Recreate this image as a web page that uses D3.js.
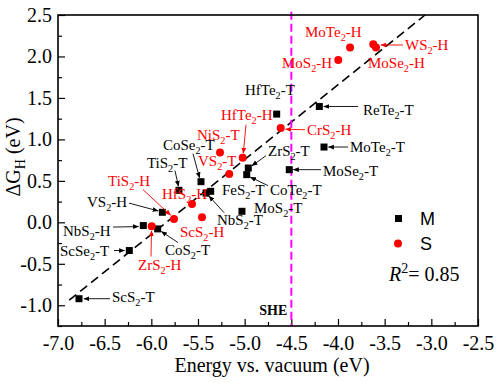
<!DOCTYPE html>
<html><head><meta charset="utf-8">
<script src="https://cdn.jsdelivr.net/npm/d3@7"></script>
<style>body{margin:0;background:#fff}</style>
</head><body><svg id="c" width="500" height="383"></svg>
<script>
// ---- data ----
const mNames = ["ScS2-T","ScSe2-T","NbS2-H","CoS2-T","VS2-H","TiS2-T","CoSe2-T","NbS2-T","FeS2-T","MoS2-T","CoTe2-T","ZrS2-T","MoSe2-T","HfTe2-T","MoTe2-T","ReTe2-T"];
const mX = [-6.775,-6.236,-6.086,-5.932,-5.882,-5.704,-5.468,-5.414,-5.364,-5.029,-4.978,-4.961,-4.522,-4.657,-4.150,-4.200];
const mY = [-0.921,-0.340,-0.039,-0.079,0.121,0.386,0.490,0.352,0.374,0.133,0.575,0.655,0.635,1.305,0.908,1.397];
const sNames = ["ZrS2-H","TiS2-H","HfS2-H","ScS2-H","VS2-T","NiS2-T","HfTe2-H","CrS2-H","MoS2-H","MoTe2-H","WS2-H","MoSe2-H"];
const sX = [-5.996,-5.757,-5.564,-5.457,-5.165,-5.264,-5.021,-4.614,-3.997,-3.871,-3.622,-3.593];
const sY = [-0.047,0.041,0.220,0.061,0.584,0.843,0.779,1.137,1.958,2.107,2.147,2.107];
const fitSlope = 0.902, fitIntercept = 5.267, fitXStart = -6.88;
const sheX = -4.5;
const r2Value = "0.85";
const xMajor = [-7.0,-6.5,-6.0,-5.5,-5.0,-4.5,-4.0,-3.5,-3.0,-2.5];
const yMajor = [-1.0,-0.5,0.0,0.5,1.0,1.5,2.0,2.5];

// ---- layout (pixel offsets of labels relative to their point: text dx,dy ; arrow start ; arrow end) ----
const mLayout = [
 [33,-2, 31,0, 5,0],
 [-69.3,0, -15.3,0, -4.8,0],
 [-80.3,5, -30.3,1.5, -4.8,1],
 [7.3,21.4, 20.3,13.7, 3.8,2.7],
 [-75.3,-10, -33.3,-9.2, -4.3,-1.4],
 [-32,-27.4, -4,-19.7, -0.5,-4.2],
 [-38,-37, -8,-28, -1.5,-4],
 [11,26.5, 18,19.5, 3,3],
 [11.3,-1.7],
 [12,-3.4],
 [23.3,15, 21.3,11, 3.8,2.5],
 [19.7,-17.3, 17.7,-12.3, 3.7,-2.3],
 [33.7,1.7, 31.7,0, 4.2,0],
 [-31.7,-24.3],
 [26,0, 24,0, 4.5,0],
 [43.7,3.3, 38.7,0, 4.5,0]
];
const sLayout = [
 [-13.7,38.3, -0.7,30.3, -0.2,4.8],
 [-66,-37.6, -31,-29.3, -3.5,-3.8],
 [-30,-10.5],
 [-22,14.6],
 [-31.3,-13.2],
 [-23,-17.7],
 [-21.7,-43, 3.3,-33, 0.6,-4.5],
 [26.3,1.7, 24.3,1.7, 4.8,1.2],
 [-56.3,3.3],
 [-45,-15.4],
 [31.7,0.7, 29.7,0.7, 7.7,0.7],
 [-8,15.6]
];

const svg = d3.select("#c");
const L=58,R=478,T=15,B=326;
const x = d3.scaleLinear().domain([-7,-2.5]).range([L,R]);
const y = d3.scaleLinear().domain([-1.25,2.5]).range([B,T]);
const serif = "'Liberation Serif','Times New Roman',serif";
const RED = "#ff0000";

const defs = svg.append("defs");
[["k","#000"],["r",RED]].forEach(([id,c])=>{
  defs.append("marker").attr("id","ah"+id).attr("viewBox","0 0 10 10").attr("refX",9).attr("refY",5)
   .attr("markerWidth",6).attr("markerHeight",6).attr("markerUnits","userSpaceOnUse").attr("orient","auto")
   .append("path").attr("d","M0,1 L10,5 L0,9 Z").attr("fill",c);
});

// minor ticks
const xMinor = d3.range(-7,-2.49,0.25).filter(v=>!xMajor.some(m=>Math.abs(m-v)<1e-6));
const yMinor = d3.range(-1.25,2.51,0.25).filter(v=>!yMajor.some(m=>Math.abs(m-v)<1e-6));
svg.append("g").attr("transform",`translate(0,${B})`).call(d3.axisBottom(x).tickValues(xMinor).tickSize(-4).tickFormat(""))
  .call(g=>g.select(".domain").remove());
svg.append("g").attr("transform",`translate(${L},0)`).call(d3.axisLeft(y).tickValues(yMinor).tickSize(-4).tickFormat(""))
  .call(g=>g.select(".domain").remove());
const fmt = v => d3.format(".1f")(v).replace("\u2212","-");
svg.append("g").attr("transform",`translate(0,${B})`).call(d3.axisBottom(x).tickValues(xMajor).tickSize(-7).tickPadding(10).tickFormat(fmt))
  .call(g=>g.select(".domain").remove())
  .call(g=>g.selectAll("text").style("font-family",serif).style("font-size","20px").attr("fill","#000"));
svg.append("g").attr("transform",`translate(${L},0)`).call(d3.axisLeft(y).tickValues(yMajor).tickSize(-7).tickPadding(6).tickFormat(fmt))
  .call(g=>g.select(".domain").remove())
  .call(g=>g.selectAll("text").style("font-family",serif).style("font-size","20px").attr("fill","#000"));
svg.selectAll(".tick line").attr("stroke","#000").attr("stroke-width",1.2);

// fit line
const fitXEnd = (2.5 - fitIntercept)/fitSlope;
svg.append("line").attr("x1",x(fitXStart)).attr("y1",y(fitSlope*fitXStart+fitIntercept))
  .attr("x2",x(fitXEnd)).attr("y2",y(fitSlope*fitXEnd+fitIntercept))
  .attr("stroke","#000").attr("stroke-width",1.6).attr("stroke-dasharray","9,5");
// SHE line
svg.append("line").attr("x1",x(sheX)).attr("x2",x(sheX)).attr("y1",y(2.54)).attr("y2",B)
  .attr("stroke","#ff00ff").attr("stroke-width",2).attr("stroke-dasharray","8,4");

// frame
svg.append("rect").attr("x",L).attr("y",T).attr("width",R-L).attr("height",B-T)
  .attr("fill","none").attr("stroke","#000").attr("stroke-width",1.6);

function chem(sel, name, fs){
  const parts = name.split(/(\d)/).filter(p=>p.length);
  let sub=false;
  parts.forEach(p=>{
    if(/^\d$/.test(p)){
      sel.append("tspan").attr("dy",fs*0.27).style("font-size",(fs*0.68)+"px").text(p); sub=true;
    } else {
      const t = sel.append("tspan").text(p);
      if(sub){ t.attr("dy",-fs*0.27); sub=false; }
    }
  });
}

function drawLabels(names,xs,ys,layout,color,mk){
  const g = svg.append("g");
  names.forEach((n,i)=>{
    const px=x(xs[i]), py=y(ys[i]), l=layout[i];
    if(l.length>2){
      g.append("line").attr("x1",px+l[2]).attr("y1",py+l[3]).attr("x2",px+l[4]).attr("y2",py+l[5])
       .attr("stroke",color).attr("stroke-width",0.9).attr("marker-end",`url(#ah${mk})`);
    }
    const t = g.append("text").attr("x",px+l[0]).attr("y",py+l[1]+5).attr("fill",color)
      .style("font-family",serif).style("font-size","15px");
    chem(t,n,15);
  });
}

// markers
svg.append("g").selectAll("rect").data(mNames).join("rect")
  .attr("x",(d,i)=>x(mX[i])-3.5).attr("y",(d,i)=>y(mY[i])-3.5).attr("width",7).attr("height",7).attr("fill","#000");
svg.append("g").selectAll("circle").data(sNames).join("circle")
  .attr("cx",(d,i)=>x(sX[i])).attr("cy",(d,i)=>y(sY[i])).attr("r",4).attr("fill",RED);

drawLabels(mNames,mX,mY,mLayout,"#000","k");
drawLabels(sNames,sX,sY,sLayout,RED,"r");

// SHE text
svg.append("text").attr("x",x(sheX)-4).attr("y",315).attr("text-anchor","end")
  .style("font-family",serif).style("font-size","14px").style("font-weight","bold").text("SHE");

// legend
svg.append("rect").attr("x",395).attr("y",215).attr("width",7).attr("height",7).attr("fill","#000");
svg.append("circle").attr("cx",398).attr("cy",243.5).attr("r",4).attr("fill",RED);
svg.append("text").attr("x",420).attr("y",225).style("font-family","'Liberation Sans',Arial,sans-serif").style("font-size","18px").text("M");
svg.append("text").attr("x",420).attr("y",250).style("font-family","'Liberation Sans',Arial,sans-serif").style("font-size","18px").text("S");

// R^2
const r2 = svg.append("text").attr("x",389).attr("y",281).style("font-family",serif).style("font-size","20px");
r2.append("tspan").style("font-style","italic").text("R");
r2.append("tspan").attr("dy",-8).style("font-size","14px").text("2");
r2.append("tspan").attr("dy",8).text("= "+r2Value);

// axis titles
svg.append("text").attr("x",272).attr("y",372).attr("text-anchor","middle")
  .style("font-family",serif).style("font-size","20px").text("Energy vs. vacuum (eV)");
const yl = svg.append("text").attr("transform","translate(20,157) rotate(-90)").attr("text-anchor","middle")
  .style("font-family",serif).style("font-size","20px");
yl.append("tspan").text("\u0394G");
yl.append("tspan").attr("dy",5).style("font-size","14px").text("H");
yl.append("tspan").attr("dy",-5).text(" (eV)");
</script></body></html>
